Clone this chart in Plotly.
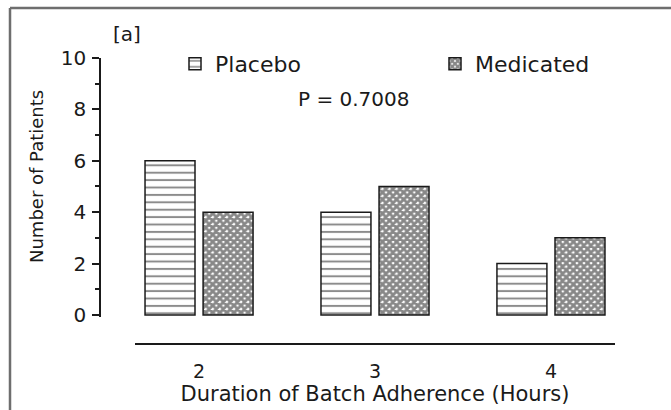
import plotly.graph_objects as go

# ---- data ----
durations = [2, 3, 4]
placebo = [6, 4, 2]
medicated = [4, 5, 3]
x_tick_labels = ["2", "3", "4"]
y_tick_vals = [0, 2, 4, 6, 8, 10]
p_value_text = "P = 0.7008"

W, H = 671, 410
FONT = "DejaVu Sans"
INK = "#1a1a1a"

def px_x(p):
    return p / W

def px_y(p):
    return 1 - p / H

fig = go.Figure()

fig.add_trace(go.Bar(
    x=durations, y=placebo, name="Placebo",
    width=0.284, offset=-0.307,
    marker=dict(color="white",
                line=dict(color=INK, width=1.5),
                pattern=dict(shape="-", fgcolor=INK, bgcolor="white",
                             size=7.4, solidity=0.27)),
    legend="legend",
))
fig.add_trace(go.Bar(
    x=durations, y=medicated, name="Medicated",
    width=0.284, offset=0.023,
    marker=dict(color="white",
                line=dict(color=INK, width=1.5),
                pattern=dict(shape="x", fgcolor="#111111", bgcolor="white",
                             size=5, solidity=0.8)),
    legend="legend2",
))

fig.update_layout(
    width=W, height=H,
    margin=dict(l=0, r=0, t=0, b=0, autoexpand=False),
    paper_bgcolor="white", plot_bgcolor="white",
    font=dict(family=FONT, color=INK),
    barmode="overlay",
    xaxis=dict(
        domain=[px_x(135), px_x(615)],
        range=[1.636, 4.364],
        anchor="free", position=px_y(344),
        tickvals=durations, ticktext=x_tick_labels,
        ticks="", showline=True, linecolor=INK, linewidth=1.5,
        showgrid=False, zeroline=False,
        tickfont=dict(size=19, family=FONT, color=INK),
        ticklabelstandoff=10,
        title=dict(text="Duration of Batch Adherence (Hours)",
                   font=dict(size=21, family=FONT, color=INK), standoff=4),
    ),
    yaxis=dict(
        domain=[px_y(316.5), px_y(58)],
        range=[-0.06, 10],
        anchor="free", position=px_x(100),
        tickvals=y_tick_vals,
        ticks="outside", ticklen=7, tickwidth=1.5, tickcolor=INK,
        minor=dict(dtick=1, ticks="outside", ticklen=4, tickwidth=1.5, tickcolor=INK),
        showline=True, linecolor=INK, linewidth=1.5,
        showgrid=False, zeroline=False,
        tickfont=dict(size=20, family=FONT, color=INK),
        ticklabelstandoff=2,
    ),
    legend=dict(x=px_x(175), y=px_y(64), xanchor="left", yanchor="middle",
                orientation="h", bgcolor="rgba(0,0,0,0)",
                font=dict(size=22, family=FONT, color=INK)),
    legend2=dict(x=px_x(435), y=px_y(64), xanchor="left", yanchor="middle",
                 orientation="h", bgcolor="rgba(0,0,0,0)",
                 font=dict(size=22, family=FONT, color=INK)),
    showlegend=True,
)

# frame lines (top and left) of the figure panel
fig.add_shape(type="line", xref="paper", yref="paper",
              x0=px_x(10), x1=1, y0=px_y(8), y1=px_y(8),
              line=dict(color="#6e6e6e", width=2.5))
fig.add_shape(type="line", xref="paper", yref="paper",
              x0=px_x(10), x1=px_x(10), y0=px_y(8), y1=0,
              line=dict(color="#6e6e6e", width=2.5))

# y-axis title
fig.add_annotation(text="Number of Patients", xref="paper", yref="paper",
                   x=px_x(37), y=px_y(177), xanchor="center", yanchor="middle",
                   showarrow=False, textangle=-90,
                   font=dict(size=18, family=FONT, color=INK))
fig.add_annotation(text="[a]", xref="paper", yref="paper",
                   x=px_x(127), y=px_y(34), xanchor="center", yanchor="middle",
                   showarrow=False,
                   font=dict(size=20, family=FONT, color=INK))
fig.add_annotation(text=p_value_text, xref="paper", yref="paper",
                   x=px_x(354), y=px_y(99), xanchor="center", yanchor="middle",
                   showarrow=False,
                   font=dict(size=20, family=FONT, color=INK))

fig.write_html("out.html", config={"displayModeBar": False})
